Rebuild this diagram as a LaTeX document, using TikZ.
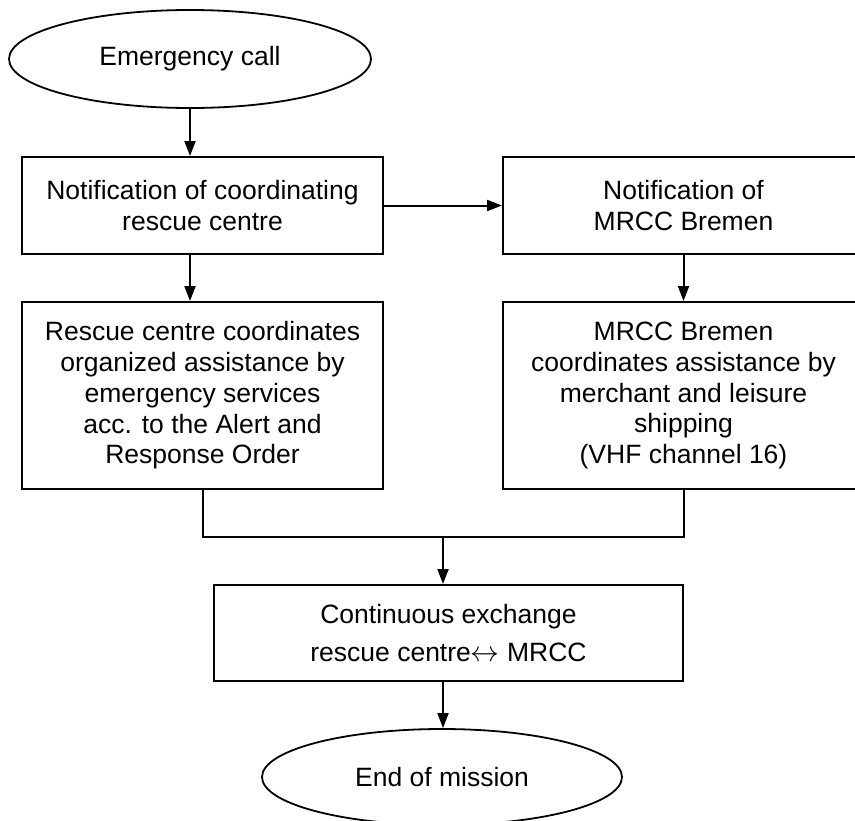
\documentclass[tikz,border=0pt]{standalone}
\usepackage{fontspec}
\setmainfont{Liberation Sans}
\usetikzlibrary{shapes.geometric, arrows.meta, positioning}

\tikzset{
    stepbox/.style={draw, rectangle, line width=1pt, minimum width=180.5pt,
        align=center, inner sep=0pt, font=\fontsize{13.25}{15.35}\selectfont},
    terminal/.style={draw, ellipse, line width=0.9pt, minimum width=181pt,
        minimum height=49pt, inner sep=0pt, font=\fontsize{13.25}{15.35}\selectfont},
    flow/.style={line width=1pt, -{Triangle[length=7.5pt, width=5.5pt]}},
    link/.style={line width=1pt}
}

\begin{document}
\begin{tikzpicture}[x=0.5pt, y=-0.5pt]
    \useasboundingbox (0,0) rectangle (855,820);

    % Start and end
    \node[terminal] (call) at (190,59) {Emergency call};
    \node[terminal, minimum width=180pt, minimum height=48pt] (endm) at (442,777) {End of mission};

    % Notification boxes
    \node[stepbox, minimum height=48.5pt] (notrcc) at (202.5,205.5) {Notification of coordinating\\rescue centre};
    \node[stepbox, minimum height=48.5pt] (notmrcc) at (683.5,205.5) {Notification of\\MRCC Bremen};

    % Coordination boxes
    \node[stepbox, minimum height=93.5pt] (rccwork) at (202.5,395.5) {Rescue centre coordinates\\organized assistance by\\emergency services\\acc. to the Alert and\\Response Order};
    \node[stepbox, minimum height=93.5pt] (mrccwork) at (683.5,395.5) {MRCC Bremen\\coordinates assistance by\\merchant and leisure\\shipping\\(VHF channel 16)};

    % Exchange box
    \node[stepbox, minimum width=234.5pt, minimum height=48pt] (exch) at (448.5,633) {Continuous exchange\\[4pt]rescue centre$\leftrightarrow$ MRCC};

    % Connectors
    \draw[flow] (call.south) -- (call.south |- notrcc.north);
    \draw[flow] (notrcc.east) -- (notmrcc.west);
    \draw[flow] (notrcc.south -| call.south) -- (rccwork.north -| call.south);
    \draw[flow] (notmrcc.south) -- (mrccwork.north);

    % Merge of both branches
    \coordinate (join) at (443,537);
    \draw[link] (rccwork.south) |- (join) -| (mrccwork.south);
    \draw[flow] (join) -- (join |- exch.north);
    \draw[flow] (exch.south -| join) -- (join |- endm.north);
\end{tikzpicture}
\end{document}
